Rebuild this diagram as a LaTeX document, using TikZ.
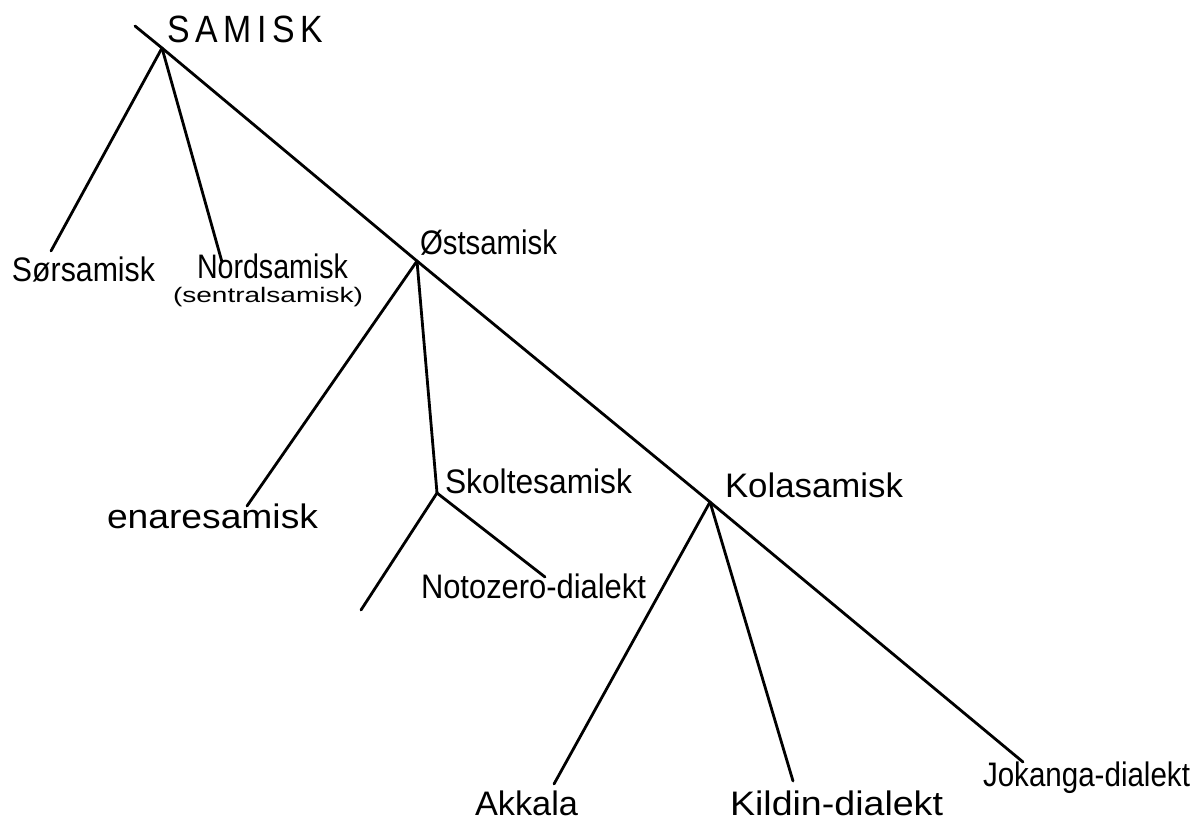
\documentclass[tikz,border=0pt]{standalone}
\usepackage{fontspec}
\setmainfont{Liberation Sans}
\usepackage{graphicx}
\newcommand{\lab}[2]{\resizebox{#1pt}{\height}{#2}}
\tikzset{
  branch/.style={line width=2.8pt, line cap=round, black},
  lbl/.style={anchor=base west, inner sep=0pt, outer sep=0pt, font=\fontsize{34}{40}\selectfont},
  biglbl/.style={anchor=base west, inner sep=0pt, outer sep=0pt, font=\fontsize{38}{44}\selectfont},
  smalllbl/.style={anchor=base west, inner sep=0pt, outer sep=0pt, font=\fontsize{21}{25}\selectfont}
}
\begin{document}
\begin{tikzpicture}[x=1pt,y=-1pt]
\useasboundingbox[fill=white] (0,0) rectangle (1196,823);
% junctions and free ends
\coordinate (start) at (135,26);
\coordinate (jsam) at (162,48);
\coordinate (jost) at (417,261);
\coordinate (jsko) at (437,493);
\coordinate (jkol) at (710,502);
\coordinate (eend) at (1023,762);
\coordinate (esor) at (51,251);
\coordinate (enor) at (222,262);
\coordinate (eena) at (247,506);
\coordinate (eskl) at (361,610);
\coordinate (enot) at (545,577);
\coordinate (eakk) at (554,784);
\coordinate (ekil) at (793,781);
% labels
\node[biglbl] (samisk) at (167,42) {\lab{156}{S\,A\,M\,I\,S\,K}};
\node[lbl] (sor) at (12,281) {\lab{143}{Sørsamisk}};
\node[lbl] (nord) at (197,278) {\lab{151}{Nordsamisk}};
\node[smalllbl] (sentral) at (173,302) {\lab{190}{(sentralsamisk)}};
\node[lbl] (ost) at (420,254) {\lab{137}{Østsamisk}};
\node[lbl] (enare) at (107,528) {\lab{211}{enaresamisk}};
\node[lbl] (skolte) at (445,493) {\lab{187}{Skoltesamisk}};
\node[lbl] (noto) at (421,598) {\lab{225}{Notozero-dialekt}};
\node[lbl] (kola) at (725,497) {\lab{178}{Kolasamisk}};
\node[lbl] (akk) at (475,815) {\lab{103}{Akkala}};
\node[lbl] (kil) at (730,815) {\lab{213}{Kildin-dialekt}};
\node[lbl] (jok) at (983,786) {\lab{207}{Jokanga-dialekt}};
% connectors
\draw[branch] (start) -- (jsam) -- (jost) -- (jkol) -- (eend);
\draw[branch] (jsam) -- (esor);
\draw[branch] (jsam) -- (enor);
\draw[branch] (jost) -- (eena);
\draw[branch] (jost) -- (jsko);
\draw[branch] (jsko) -- (eskl);
\draw[branch] (jsko) -- (enot);
\draw[branch] (jkol) -- (eakk);
\draw[branch] (jkol) -- (ekil);
\end{tikzpicture}
\end{document}
